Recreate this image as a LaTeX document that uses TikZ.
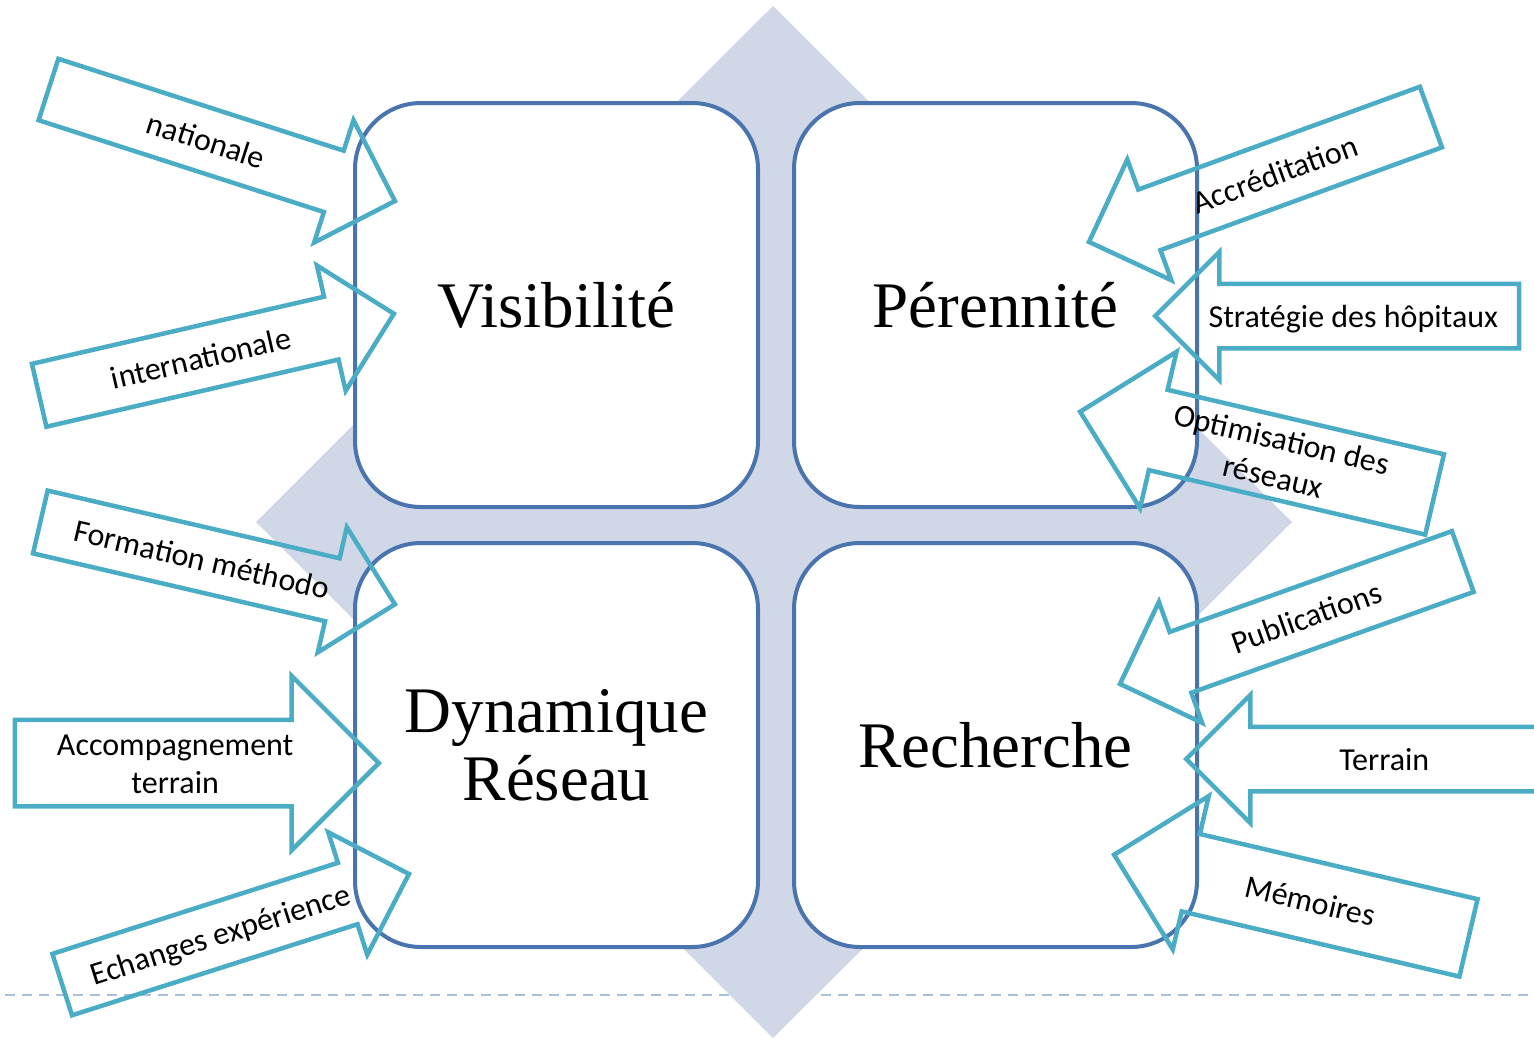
\documentclass[tikz,border=0pt]{standalone}
\usepackage{fontspec}
\setmainfont{Liberation Serif}
\newfontfamily\arrowfont{Carlito}
\usepackage{tikz}
\usetikzlibrary{positioning,shapes.arrows}

\definecolor{panelblue}{HTML}{4A74AE}
\definecolor{arrowteal}{HTML}{4BACC6}
\definecolor{diamondgrey}{HTML}{D0D8E8}
\definecolor{rulegrey}{HTML}{A9BFDA}

\begin{document}
\begin{tikzpicture}[
    x=1pt, y=-1pt,
    panel/.style={draw=panelblue, line width=4pt, fill=white,
                  rounded corners=66pt, minimum width=403pt,
                  minimum height=404pt, align=center, inner sep=0pt,
                  font=\fontsize{65}{68}\selectfont},
    barrow/.style={single arrow, draw=arrowteal, line width=4.5pt,
                   single arrow head extend=32pt, single arrow tip angle=90,
                   minimum height=364pt, minimum width=124pt,
                   inner xsep=0pt, inner ysep=15pt,
                   text height=26pt, text depth=4pt,
                   align=center, anchor=tip,
                   font=\arrowfont\fontsize{32}{38}\selectfont},
    bigarrow/.style={barrow, minimum width=156pt, single arrow head extend=39pt},
    leftward/.style={shape border rotate=180}
  ]
    \useasboundingbox (0,0) rectangle (1534,1037);
    \clip (0,0) rectangle (1534,1037);

    % background
    \draw[rulegrey, line width=2pt, dash pattern=on 10pt off 7pt] (5,995) -- (1534,995);
    \fill[diamondgrey] (773,6) -- (1292,522) -- (773,1038) -- (256,522) -- cycle;

    % the four panels
    \node[panel] (vis) at (556.5,305) {Visibilit\'e};
    \node[panel, right=32pt of vis] (per) {P\'erennit\'e};
    \node[panel, below=32pt of vis] (dyn) {Dynamique\\R\'eseau};
    \node[panel, right=32pt of dyn] (rech) {Recherche};

    % arrows on the left
    \node[barrow, rotate=-17.84] (nat) at (398,202) {nationale};
    \node[barrow, rotate=12.95] (intl) at (397,313) {internationale};
    \node[barrow, rotate=-13.07] (form) at (398,605) {Formation m\'ethodo};
    \node[barrow, minimum width=170pt, single arrow head extend=44pt,
          text height=64pt, inner ysep=7pt]
      (accomp) at (382,763) {Accompagnement\\terrain};
    \node[barrow, rotate=17.69] (echg) at (412,873) {Echanges exp\'erience};

    % arrows on the right
    \node[barrow, leftward, rotate=20.06] (accr) at (1086,243) {Accr\'editation};
    \node[barrow, leftward] (strat) at (1152,316) {Strat\'egie des h\^opitaux};
    \node[bigarrow, leftward, rotate=-13.14, text height=64pt, inner ysep=5pt]
      (optim) at (1077,411) {Optimisation des\\r\'eseaux};
    \node[barrow, leftward, rotate=19.65] (publ) at (1117,685) {Publications};
    \node[barrow, leftward] (terr) at (1183,759) {Terrain};
    \node[bigarrow, leftward, rotate=-13.2, minimum width=154pt, inner ysep=22.5pt]
      (memo) at (1111,854) {M\'emoires};
\end{tikzpicture}
\end{document}
